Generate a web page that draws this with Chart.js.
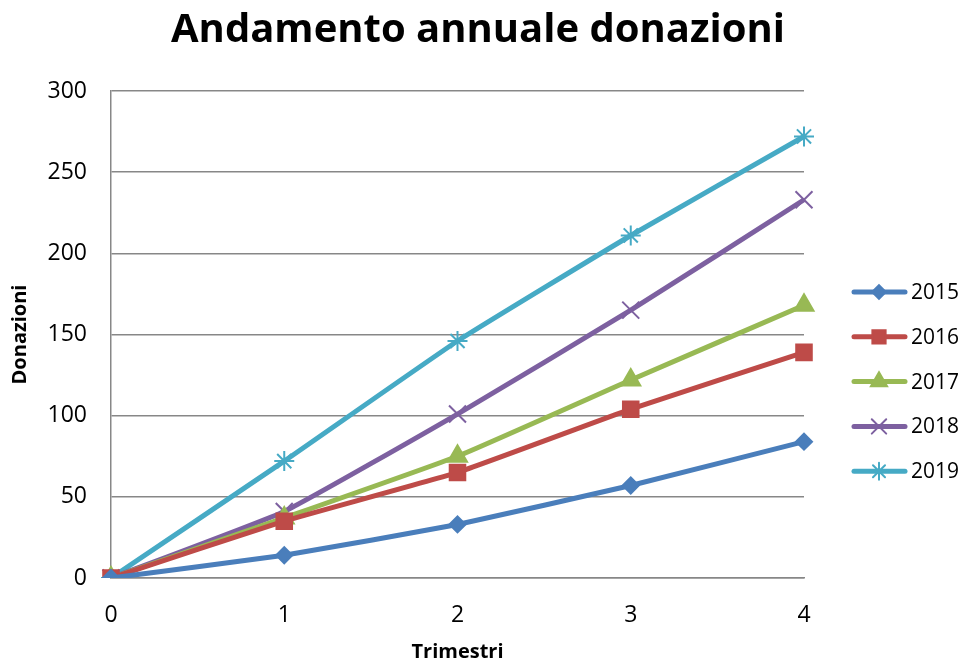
<!DOCTYPE html>
<html>
<head>
<meta charset="utf-8">
<script src="https://cdn.jsdelivr.net/npm/chart.js@4"></script>
<style>
  html, body { margin: 0; padding: 0; background: #fff; }
  #wrap { width: 963px; height: 664px; position: relative; }
</style>
</head>
<body>
<div id="wrap"><canvas id="chart" width="963" height="664"></canvas></div>
<script>
// Andamento annuale donazioni

const trimestri = ['0', '1', '2', '3', '4'];
const anni      = ['2015', '2016', '2017', '2018', '2019'];

const don2015 = [0, 14, 33, 57, 84];
const don2016 = [0, 35, 65, 104, 139];
const don2017 = [0, 37, 75, 122, 168];
const don2018 = [0, 41, 101, 165, 233];
const don2019 = [0, 72, 146, 211, 272];

const yTicks = [0, 50, 100, 150, 200, 250, 300];

const FONT = '"Open Sans", "Noto Sans", sans-serif';
const GRID = '#878787';

const styles = [
  { color: '#4A7EBB', point: 'rectRot',  radius: 8 },
  { color: '#BE4B48', point: 'rect',     radius: 11 },
  { color: '#98B954', point: 'triangle', radius: 11 },
  { color: '#7D60A0', point: 'crossRot', radius: 12 },
  { color: '#46AAC5', point: 'star',     radius: 10 }
];

const series = [don2015, don2016, don2017, don2018, don2019];

const datasets = series.map((vals, i) => ({
  label: anni[i],
  data: vals,
  borderColor: styles[i].color,
  backgroundColor: styles[i].color,
  borderWidth: 5,
  tension: 0.12,
  pointStyle: styles[i].point,
  pointRadius: styles[i].radius,
  pointBorderWidth: 2,
  pointBorderColor: styles[i].color,
  pointBackgroundColor: styles[i].color
}));

// title + legend drawn by hand so the legend can show line + marker like Excel
const decorations = {
  id: 'decorations',
  afterDraw(chart) {
    const ctx = chart.ctx;
    ctx.save();
    ctx.fillStyle = '#000';
    ctx.font = 'bold 40px ' + FONT;
    ctx.textAlign = 'center';
    ctx.textBaseline = 'middle';
    ctx.fillText('Andamento annuale donazioni', 478, 31);

    ctx.font = '21px ' + FONT;
    ctx.textAlign = 'left';
    chart.data.datasets.forEach((ds, i) => {
      const y = 292 + i * 44.8;
      ctx.strokeStyle = ds.borderColor;
      ctx.lineWidth = 5;
      ctx.lineCap = 'round';
      ctx.beginPath();
      ctx.moveTo(854, y);
      ctx.lineTo(905, y);
      ctx.stroke();
      ctx.fillStyle = ds.borderColor;
      ctx.lineWidth = 2;
      Chart.helpers.drawPoint(ctx, {
        pointStyle: ds.pointStyle,
        radius: ds.pointRadius * 0.85,
        borderWidth: 2
      }, 879, y);
      ctx.fillStyle = '#000';
      ctx.fillText(ds.label, 911, y + 1);
    });
    ctx.restore();
  }
};

new Chart(document.getElementById('chart').getContext('2d'), {
  type: 'line',
  data: { labels: trimestri, datasets },
  plugins: [decorations],
  options: {
    responsive: false,
    animation: false,
    layout: { padding: { top: 91, right: 159, left: 0, bottom: 0 } },
    plugins: {
      legend: { display: false },
      title: { display: false },
      tooltip: { enabled: false }
    },
    scales: {
      x: {
        offset: false,
        grid: { display: false, drawTicks: false },
        border: { color: GRID, width: 1.5 },
        ticks: { color: '#000', font: { size: 23, family: FONT }, padding: 24, maxRotation: 0 },
        title: {
          display: true, text: 'Trimestri', color: '#000',
          font: { size: 20, weight: 'bold', family: FONT },
          padding: { top: 0, bottom: 0 }
        },
        afterFit(scale) { scale.height = 86; }
      },
      y: {
        min: 0, max: 300,
        afterBuildTicks(scale) { scale.ticks = yTicks.map(v => ({ value: v })); },
        grid: { color: GRID, lineWidth: 1.5, drawTicks: false },
        border: { color: GRID, width: 1.5 },
        ticks: { color: '#000', font: { size: 23, family: FONT }, padding: 24 },
        title: {
          display: true, text: 'Donazioni', color: '#000',
          font: { size: 20, weight: 'bold', family: FONT },
          padding: { top: 8, bottom: 0 }
        },
        afterFit(scale) { scale.width = 111; }
      }
    }
  }
});
</script>
</body>
</html>
